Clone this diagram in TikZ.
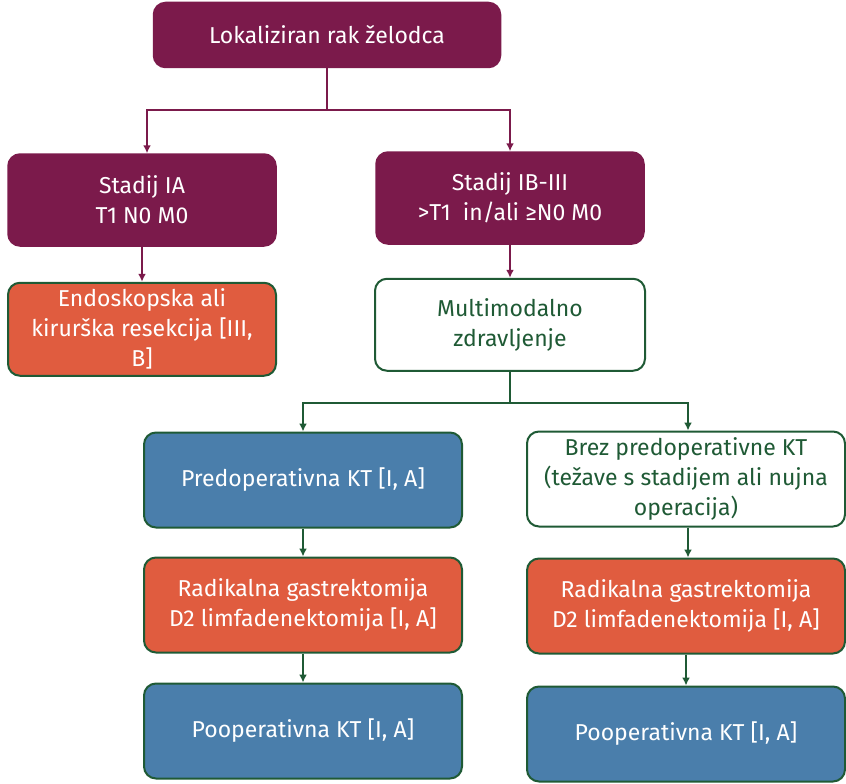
\documentclass[tikz,border=0pt]{standalone}
\usepackage{fontspec}
\setmainfont{Fira Sans}
\usetikzlibrary{positioning, arrows.meta}

\definecolor{maroon}{HTML}{7B1A4B}
\definecolor{surgred}{HTML}{E05C3F}
\definecolor{chemoblue}{HTML}{4A7EAB}
\definecolor{darkgreen}{HTML}{1F5A35}

\begin{document}
\begin{tikzpicture}[
        x=1pt, y=1pt,
        every node/.style={rounded corners=12pt, align=center, inner sep=2pt,
            font=\fontsize{23}{30}\selectfont},
        stage/.style={fill=maroon, draw=maroon, text=white, line width=1.5pt,
            minimum width=268pt, minimum height=92pt},
        surg/.style={fill=surgred, draw=darkgreen, text=white, line width=2pt},
        chemo/.style={fill=chemoblue, draw=darkgreen, text=white, line width=2pt},
        plain/.style={fill=white, draw=darkgreen, text=darkgreen, line width=2pt},
        wide/.style={minimum width=318pt, minimum height=95pt},
        mline/.style={draw=maroon, line width=2pt, -{Latex[length=8pt, width=8pt]}},
        gline/.style={draw=darkgreen, line width=2pt, -{Latex[length=8pt, width=8pt]}}
    ]
    \useasboundingbox (0,0) rectangle (846,-784);

    % Diagnosis and stages
    \node[stage, minimum width=347pt, minimum height=65pt] (diag) at (327,-35) {Lokaliziran rak želodca};
    \node[stage] (ia) at (142,-200) {Stadij IA\\T1 N0 M0};
    \node[stage] (ib) at (510,-198) {Stadij IB-III\\>T1\ \ in/ali ≥N0 M0};
    \coordinate (split1) at (327,-110);

    % Stage IA
    \node[surg, minimum width=268pt, minimum height=93pt, below=35pt of ia] (endo)
        {Endoskopska ali\\kirurška resekcija [III,\\B]};

    % Stage IB-III
    \node[plain, minimum width=270pt, minimum height=92pt, below=33pt of ib] (multi)
        {Multimodalno\\zdravljenje};
    \coordinate (split2) at (510,-403);

    % Left branch
    \node[chemo, wide] (preop) at (303,-480) {Predoperativna KT [I, A]};
    \node[surg, wide, below=28pt of preop] (gastl) {Radikalna gastrektomija\\D2 limfadenektomija [I, A]};
    \node[chemo, wide, below=29pt of gastl] (postl) {Pooperativna KT [I, A]};

    % Right branch
    \node[plain, wide] (nopre) at (686,-479) {Brez predoperativne KT\\(težave s stadijem ali nujna\\operacija)};
    \node[surg, wide, below=30pt of nopre] (gastr) {Radikalna gastrektomija\\D2 limfadenektomija [I, A]};
    \node[chemo, wide, below=31pt of gastr] (postr) {Pooperativna KT [I, A]};

    % Connectors
    \draw[draw=maroon, line width=2pt] (diag.south) -- (split1);
    \draw[mline] (split1) -| ([xshift=5pt]ia.north);
    \draw[mline] (split1) -| (ib.north);
    \draw[mline] (ia) -- (endo);
    \draw[mline] (ib) -- (multi);

    \draw[draw=darkgreen, line width=2pt] (multi.south) -- (split2);
    \draw[gline] (split2) -| (preop.north);
    \draw[gline] (split2) -| ([xshift=2pt]nopre.north);
    \draw[gline] (preop) -- (gastl);
    \draw[gline] (gastl) -- (postl);
    \draw[gline] ([xshift=2pt]nopre.south) -- ([xshift=2pt]gastr.north);
    \draw[gline] (gastr) -- (postr);

\end{tikzpicture}
\end{document}
